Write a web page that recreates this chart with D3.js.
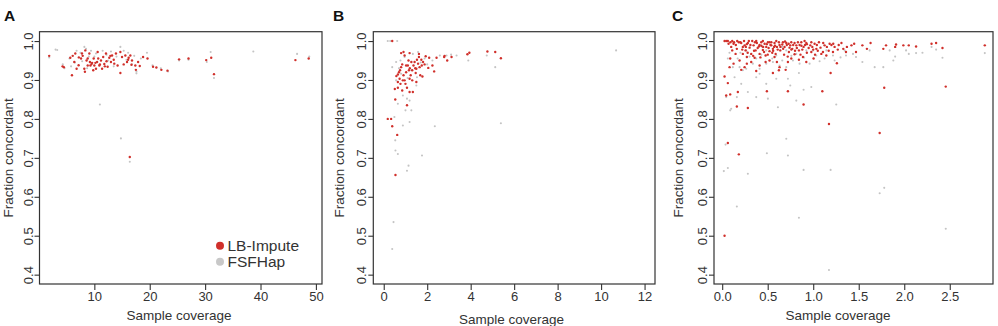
<!DOCTYPE html>
<html><head><meta charset="utf-8">
<script src="https://cdn.jsdelivr.net/npm/d3@7"></script>
<style>
html,body{margin:0;padding:0;background:#fff;}
svg{display:block;font-family:"Liberation Sans",Arial,Helvetica,sans-serif;}
</style></head>
<body>
<svg id="chart" width="998" height="326"></svg>
<script>
// ---------- data ----------
const seriesNames = ["LB-Impute", "FSFHap"];
const yTicks = [0.4, 0.5, 0.6, 0.7, 0.8, 0.9, 1.0];
const aXTicks = [10, 20, 30, 40, 50];
const bXTicks = [0, 2, 4, 6, 8, 10, 12];
const cXTicks = [0.0, 0.5, 1.0, 1.5, 2.0, 2.5];

const aRed = [[1.85,0.962],[4.27,0.935],[5.96,0.912],[5.66,0.957],[6.38,0.946],[6.56,0.968],[7.16,0.938],[6.8,0.929],[7.6,0.955],[7.77,0.968],[8.19,0.929],[8.3,0.921],[8.37,0.976],[8.6,0.95],[8.8,0.937],[9.1,0.968],[9.2,0.946],[9.3,0.937],[9.5,0.941],[9.88,0.955],[10.0,0.937],[10.3,0.929],[10.5,0.946],[10.6,0.972],[10.9,0.937],[11.2,0.95],[11.4,0.929],[11.6,0.959],[11.8,0.941],[12.1,0.968],[12.4,0.934],[12.7,0.957],[13.0,0.946],[13.2,0.963],[13.5,0.952],[13.9,0.968],[14.2,0.937],[14.7,0.918],[14.7,0.972],[15.0,0.959],[15.6,0.963],[15.9,0.946],[16.1,0.952],[16.5,0.963],[16.7,0.939],[16.8,0.95],[17.4,0.937],[17.5,0.926],[17.9,0.946],[18.8,0.959],[19.6,0.955],[20.6,0.934],[21.2,0.932],[22.1,0.926],[23.2,0.924],[25.3,0.953],[27.0,0.955],[30.2,0.951],[31.1,0.957],[31.6,0.915],[46.3,0.951],[48.7,0.955],[16.4,0.702],[9.6,0.944],[10.2,0.944],[11.0,0.94],[8.8,0.955],[7.2,0.958],[12.9,0.962],[13.6,0.942],[15.3,0.94],[16.2,0.957],[18.2,0.936],[6.1,0.962],[10.7,0.955],[11.9,0.935],[4.5,0.933],[7.9,0.962],[9.8,0.925],[12.2,0.948]];
const aGrey = [[3,0.978],[3.3,0.977],[4.3,0.94],[5.5,0.955],[6.8,0.975],[7.5,0.97],[8.2,0.985],[8.5,0.98],[9.4,0.975],[10,0.96],[10.3,0.968],[11.5,0.975],[12.2,0.965],[13,0.973],[14.7,0.985],[15.3,0.975],[16.1,0.97],[17.2,0.962],[17.6,0.917],[18.4,0.955],[19.5,0.97],[11,0.837],[14.8,0.75],[16.4,0.69],[25.3,0.95],[27,0.952],[31,0.972],[31.6,0.905],[38.7,0.973],[46.6,0.967],[48.8,0.96],[1.85,0.958],[4.6,0.93],[6.5,0.945],[7.8,0.948],[9,0.96],[12.5,0.95],[14,0.96],[15.8,0.952],[16.8,0.94],[20.5,0.938],[22,0.93],[23.3,0.922],[30.3,0.946],[13.5,0.935],[17.6,0.922],[8.7,0.93],[5.8,0.935]];

const bRed = [[0.185,0.8],[0.34,0.8],[0.39,0.781],[0.62,0.759],[0.54,0.656],[0.53,0.85],[0.51,0.877],[0.65,0.88],[0.65,0.914],[0.73,0.903],[0.77,0.89],[0.7,0.92],[0.8,0.933],[0.85,0.873],[0.88,0.899],[0.91,0.912],[0.8,0.969],[0.91,0.972],[0.96,0.963],[1.0,0.89],[1.03,0.92],[1.07,0.88],[1.11,0.937],[1.16,0.925],[1.07,0.835],[1.19,0.969],[1.19,0.869],[1.24,0.912],[1.27,0.946],[1.31,0.925],[1.34,0.869],[1.19,0.903],[1.37,0.937],[1.42,0.946],[1.47,0.918],[1.5,0.929],[1.53,0.952],[1.58,0.942],[1.62,0.959],[1.65,0.933],[1.68,0.912],[1.73,0.952],[1.75,0.937],[1.78,0.909],[1.81,0.946],[1.88,0.94],[2.05,0.931],[2.09,0.957],[2.24,0.937],[2.32,0.922],[2.43,0.957],[2.78,0.959],[2.92,0.95],[3.12,0.959],[3.85,0.966],[3.94,0.97],[4.77,0.973],[5.13,0.972],[5.39,0.956],[0.39,1.0],[0.65,0.895],[0.96,0.899],[1.03,0.937],[1.31,0.899],[1.5,0.895],[1.62,0.967],[1.93,0.961],[0.85,0.94],[1.14,0.95],[0.58,0.91],[0.75,0.925],[1.2,0.93],[1.45,0.93],[2.8,0.962]];
const bGrey = [[0.185,1.0],[0.62,1.0],[0.3,1.0],[0.39,0.933],[0.49,0.805],[0.45,0.535],[0.39,0.466],[0.53,0.745],[0.54,0.719],[0.65,0.71],[0.88,0.783],[1.19,0.792],[1.14,0.68],[1.07,0.667],[1.76,0.706],[2.35,0.781],[5.39,0.789],[5.13,0.933],[10.69,0.976],[3.89,0.95],[3.35,0.963],[2.89,0.963],[1.58,0.972],[1.27,0.822],[0.96,0.959],[0.77,0.95],[1.5,0.886],[1.07,0.852],[0.65,0.839],[1.34,0.967],[1.88,0.955],[2.24,0.95],[2.58,0.963],[0.57,0.946],[0.8,0.916],[1.27,0.925],[0.57,0.899],[0.88,0.86],[4.74,0.963],[1.19,0.847],[1.0,0.822],[1.53,0.907],[0.7,0.93],[1.1,0.905],[1.7,0.945],[2.0,0.94],[3.1,0.965]];

const cRed = [[0.026,1.0],[0.062,1.0],[0.044,1.0],[0.09,0.997],[0.13,0.997],[0.165,1.0],[0.2,0.997],[0.026,0.909],[0.062,0.892],[0.044,0.86],[0.088,0.863],[0.062,0.738],[0.183,0.709],[0.026,0.5],[0.161,0.832],[0.172,0.869],[0.209,0.926],[0.282,0.828],[0.374,0.923],[0.491,0.871],[0.557,0.918],[0.623,0.925],[0.722,0.871],[0.722,0.946],[0.697,0.926],[0.894,0.837],[0.843,0.952],[0.979,0.972],[1.1,0.871],[1.173,0.787],[1.191,0.918],[1.26,0.943],[1.78,0.88],[1.73,0.764],[2.456,0.883],[2.885,0.989],[2.42,0.982],[2.35,0.995],[2.3,0.993],[2.13,0.986],[2.05,0.989],[1.99,0.989],[1.91,0.991],[1.9,0.985],[1.8,0.989],[1.77,0.98],[1.63,0.995],[1.59,0.98],[1.54,0.989],[1.47,0.972],[1.42,0.989],[1.37,0.985],[1.36,0.972],[1.31,0.995],[1.235,0.985],[1.217,0.972],[1.18,0.993],[1.125,0.989],[1.107,0.972],[1.063,0.997],[1.034,0.98],[1.015,0.993],[0.968,0.989],[0.924,0.995],[0.894,0.985],[0.869,0.997],[0.843,0.976],[0.814,0.989],[0.795,0.995],[0.77,0.98],[0.748,0.989],[0.733,0.972],[0.704,0.995],[0.685,0.985],[0.66,0.991],[0.638,0.976],[0.623,0.997],[0.601,0.985],[0.587,0.967],[0.575,0.995],[0.557,0.98],[0.539,0.989],[0.52,0.974],[0.502,0.997],[0.484,0.985],[0.477,0.963],[0.466,0.993],[0.447,0.977],[0.429,0.997],[0.411,0.967],[0.403,0.986],[0.381,0.995],[0.367,0.976],[0.345,0.989],[0.33,1.0],[0.319,0.967],[0.301,0.983],[0.282,0.995],[0.271,0.959],[0.257,0.976],[0.246,0.989],[0.227,0.967],[0.209,0.995],[0.191,0.95],[0.183,0.997],[0.161,0.98],[0.147,0.967],[0.125,0.993],[0.11,0.976],[0.088,0.955],[0.081,0.933],[0.099,0.985],[0.271,0.942],[0.411,0.937],[0.477,0.946],[0.575,0.959],[0.63,0.933],[0.759,0.955],[0.887,0.959],[0.924,0.946],[1.004,0.955],[1.089,0.967],[1.144,0.963],[0.319,0.946],[0.246,0.933],[0.356,0.957],[0.52,0.95],[0.601,0.946],[0.795,0.966],[0.125,0.942],[0.227,0.985],[0.293,1.0],[0.374,1.0],[0.447,1.0],[0.52,0.997],[0.594,1.0],[0.667,0.997],[0.759,0.997],[0.832,0.997],[0.905,1.0],[0.979,0.997],[0.31,0.99],[0.35,0.975],[0.39,0.982],[0.43,0.988],[0.46,0.972],[0.49,0.992],[0.51,0.982],[0.53,0.99],[0.55,0.97],[0.58,0.988],[0.61,0.978],[0.64,0.985],[0.67,0.98],[0.71,0.99],[0.74,0.983],[0.78,0.99],[0.82,0.982],[0.85,0.99],[0.88,0.978],[0.91,0.99],[0.95,0.982],[0.99,0.985],[1.04,0.99],[1.08,0.983],[1.15,0.985],[1.2,0.99],[1.28,0.99],[1.33,0.98],[0.15,0.99],[0.22,0.978],[0.26,0.985],[0.28,0.97],[0.34,0.962],[0.42,0.958],[0.5,0.965],[0.56,0.975],[0.68,0.965],[0.72,0.96],[0.8,0.975],[0.86,0.965],[0.93,0.97],[1.05,0.975],[1.17,0.975],[1.27,0.978],[1.02,0.965],[0.07,0.993],[0.11,1.0],[0.24,1.0],[0.27,0.992],[0.36,0.997],[0.41,0.99],[0.45,0.985],[0.54,0.997],[0.57,0.985],[0.63,0.99],[0.69,0.999],[0.73,0.993],[0.76,0.978],[0.87,0.988],[0.93,0.992],[1.0,0.978],[1.11,0.995],[1.22,0.993],[1.45,0.993]];
const cGrey = [[0.018,0.666],[0.062,0.674],[0.037,0.734],[0.161,0.575],[0.282,0.659],[0.491,0.712],[0.704,0.749],[0.722,0.706],[0.843,0.546],[0.894,0.669],[1.191,0.669],[1.173,0.412],[1.73,0.609],[1.78,0.623],[2.456,0.518],[1.253,0.837],[0.612,0.83],[0.502,0.852],[0.282,0.869],[0.161,0.856],[0.044,0.856],[0.088,0.822],[0.099,0.826],[0.209,0.89],[0.374,0.907],[0.722,0.903],[0.894,0.875],[0.979,0.882],[2.885,0.969],[2.42,0.957],[2.13,0.969],[2.05,0.967],[1.77,0.933],[1.675,0.933],[1.88,0.95],[1.54,0.946],[1.47,0.959],[1.36,0.963],[1.235,0.95],[1.125,0.955],[1.034,0.963],[0.96,0.942],[0.85,0.942],[0.777,0.95],[0.704,0.933],[0.63,0.937],[0.557,0.946],[0.484,0.942],[0.411,0.929],[0.337,0.942],[0.264,0.929],[0.191,0.933],[0.117,0.933],[0.062,0.955],[0.374,0.955],[0.594,0.963],[0.814,0.967],[0.997,0.976],[1.217,0.963],[1.437,0.967],[1.62,0.976],[1.84,0.976],[2.3,0.985],[2.35,0.978],[2.02,0.976],[1.345,0.976],[1.144,0.976],[0.924,0.976],[0.704,0.976],[0.484,0.976],[0.264,0.976],[0.411,0.916],[0.227,0.925],[0.594,0.903],[0.843,0.918],[0.136,0.907],[0.484,0.89],[0.748,0.886],[0.374,0.856],[0.814,0.847],[0.3,0.96],[0.43,0.965],[0.55,0.955],[0.66,0.95],[0.76,0.962],[0.9,0.958],[1.07,0.948],[1.3,0.958],[0.17,0.955],[0.08,0.97],[0.66,0.985],[0.44,0.985],[0.2,0.97],[1.9,0.96],[2.2,0.97]];

// ---------- layout ----------
const svg = d3.select("#chart");
const plotTop = 31.7, plotBottom = 284;
const panels = [
  {letter:"A", letterX:4, left:39.5, right:322, xDomain:[0.1,51.1], xTicks:aXTicks, xFmt:d3.format("d"), red:aRed, grey:aGrey, titleX:179, titleY:320, ylabX:12.5, legend:true},
  {letter:"B", letterX:333, left:373.3, right:655, xDomain:[-0.48,12.48], xTicks:bXTicks, xFmt:d3.format("d"), red:bRed, grey:bGrey, titleX:511.5, titleY:324, ylabX:344, legend:false},
  {letter:"C", letterX:672, left:714, right:993, xDomain:[-0.09,2.975], xTicks:cXTicks, xFmt:d3.format(".1f"), red:cRed, grey:cGrey, titleX:838, titleY:319.5, ylabX:682.5, legend:false}
];
const redColor = "#d0302b", greyColor = "#c4c4c4", ink = "#333";

panels.forEach(p => {
  const x = d3.scaleLinear().domain(p.xDomain).range([p.left, p.right]);
  const y = d3.scaleLinear().domain([0.376, 1.024]).range([plotBottom, plotTop]);
  const g = svg.append("g");

  // points: grey first, red on top
  g.append("g").selectAll("circle").data(p.grey).join("circle")
    .attr("cx", d => x(d[0])).attr("cy", d => y(d[1])).attr("r", 1.05)
    .attr("fill", greyColor);
  g.append("g").selectAll("circle").data(p.red).join("circle")
    .attr("cx", d => x(d[0])).attr("cy", d => y(d[1])).attr("r", 1.2)
    .attr("fill", redColor);

  // box
  g.append("rect").attr("x", p.left).attr("y", plotTop)
    .attr("width", p.right - p.left).attr("height", plotBottom - plotTop)
    .attr("fill", "none").attr("stroke", ink).attr("stroke-width", 1.2);

  // x axis
  const xa = g.append("g").attr("transform", `translate(0,${plotBottom})`)
    .call(d3.axisBottom(x).tickValues(p.xTicks).tickFormat(p.xFmt).tickSize(6).tickPadding(4));
  xa.select(".domain").remove();
  xa.selectAll("line").attr("stroke", ink).attr("stroke-width", 1.1);
  xa.selectAll("text").attr("font-size", 13).attr("fill", ink).attr("dy", null).attr("y", 17);

  // y axis with rotated labels
  const ya = g.append("g").attr("transform", `translate(${p.left},0)`)
    .call(d3.axisLeft(y).tickValues(yTicks).tickFormat(d3.format(".1f")).tickSize(5));
  ya.select(".domain").remove();
  ya.selectAll("line").attr("stroke", ink).attr("stroke-width", 1.1);
  ya.selectAll("text").attr("font-size", 13).attr("fill", ink)
    .attr("x", null).attr("dy", null).attr("text-anchor", "middle")
    .attr("transform", "translate(-7,0) rotate(-90)").attr("y", 0);

  // titles
  g.append("text").attr("x", p.titleX).attr("y", p.titleY).attr("text-anchor", "middle")
    .attr("font-size", 13.5).attr("fill", ink).text("Sample coverage");
  g.append("text").attr("transform", `translate(${p.ylabX},${(plotTop + plotBottom) / 2}) rotate(-90)`)
    .attr("text-anchor", "middle").attr("font-size", 13.5).attr("fill", ink).text("Fraction concordant");
  g.append("text").attr("x", p.letterX).attr("y", 20.7).attr("font-size", 15.5).attr("font-weight", "bold")
    .attr("fill", "#111").text(p.letter);

  if (p.legend) {
    const lg = g.append("g");
    const items = [{name: seriesNames[0], color: redColor, cy: 245.7, by: 250.7},
                   {name: seriesNames[1], color: "#c8c8c8", cy: 261.7, by: 266.7}];
    items.forEach(it => {
      lg.append("circle").attr("cx", 220).attr("cy", it.cy).attr("r", 4).attr("fill", it.color);
      lg.append("text").attr("x", 227.5).attr("y", it.by).attr("font-size", 15.5).attr("fill", ink).text(it.name);
    });
  }
});
</script>
</body></html>
